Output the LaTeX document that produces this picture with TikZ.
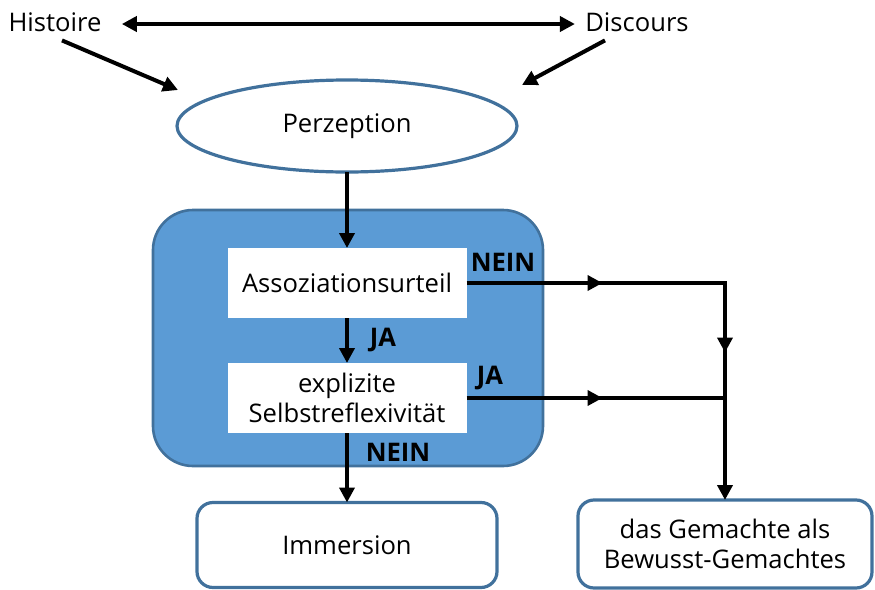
\documentclass[tikz,border=0pt]{standalone}
\usepackage{fontspec}
\setmainfont{Open Sans}
\usetikzlibrary{shapes.geometric, arrows.meta, positioning, decorations.markings}
\definecolor{rahmenblau}{RGB}{65,113,156}
\definecolor{flaecheblau}{RGB}{91,155,213}
\tikzstyle{arrow} = [line width=2pt, -{Triangle[length=7.5pt,width=7.5pt]}]
\tikzstyle{line} = [line width=2pt, line join=miter]

\begin{document}
\begin{tikzpicture}[x=0.5pt, y=-0.5pt, font=\fontsize{12.8}{15.2}\selectfont]

\tikzstyle{wort} = [inner sep=2pt, text height=9.5pt, text depth=2.5pt]
\tikzstyle{perzeption} = [ellipse, draw=rahmenblau, line width=1.6pt, fill=white, minimum width=170pt, minimum height=46pt, inner sep=0pt, outer sep=0pt]
\tikzstyle{feld} = [rectangle, rounded corners=20pt, draw=rahmenblau, line width=1.3pt, fill=flaecheblau, minimum width=195pt, minimum height=128pt, outer sep=0pt]
\tikzstyle{frage} = [rectangle, fill=white, minimum width=119.5pt, minimum height=35pt, align=center, inner sep=2pt, outer sep=0pt]
\tikzstyle{ergebnis} = [rectangle, rounded corners=8pt, draw=rahmenblau, line width=1.6pt, fill=white, minimum width=150pt, minimum height=42.5pt, align=center, outer sep=0pt]
\tikzstyle{antwort} = [font=\fontsize{12.8}{15.2}\selectfont\bfseries, inner sep=1pt]

\useasboundingbox (0,0) rectangle (875,590);

% Nodes
\node (histoire) [wort] at (55,24) {Histoire};
\node (discours) [wort] at (637,24) {Discours};
\node (perz) [perzeption] at (347,126) {Perzeption};
\node (block) [feld] at (348,338) {};
\node (assoz) [frage] at (347,283) {Assoziationsurteil};
\node (selbst) [frage, below=22.5pt of assoz] {explizite\\Selbstreflexivität};
\node (immersion) [ergebnis] at (347,545) {Immersion};
\node (gemacht) [ergebnis, minimum width=147pt, minimum height=44pt] at (725,544) {das Gemachte als\\Bewusst-Gemachtes};

% Labels
\node (nein1) [antwort] at (503,262) {NEIN};
\node (ja1) [antwort] at (383,340) {JA};
\node (ja2) [antwort] at (490,378) {JA};
\node (nein2) [antwort] at (398,452) {NEIN};

\coordinate (knick1) at (gemacht.north |- assoz.east);
\coordinate (knick2) at (gemacht.north |- selbst.east);
\coordinate (histoireziel) at (178,90);
\coordinate (discoursziel) at (522,85);

% Arrows
\draw [arrow, {Triangle[length=7.5pt,width=7.5pt]}-{Triangle[length=7.5pt,width=7.5pt]}, shorten <=8pt, shorten >=3pt] (histoire) -- (discours);
\draw [arrow] ([xshift=3.5pt]histoire.south) -- (histoireziel);
\draw [arrow] ([xshift=-16pt]discours.south) -- (discoursziel);
\draw [arrow] (perz) -- (assoz);
\draw [arrow] (assoz) -- (selbst);
\draw [arrow] (selbst) -- (immersion);
\draw [line, postaction={decorate}, decoration={markings,
  mark=at position 68pt with {\arrow{Triangle[length=7.5pt,width=7.5pt]}},
  mark=at position 164pt with {\arrow{Triangle[length=7.5pt,width=7.5pt]}}}]
  (assoz.east) -- (knick1) -- (knick2);
\draw [line, postaction={decorate}, decoration={markings,
  mark=at position 68pt with {\arrow{Triangle[length=7.5pt,width=7.5pt]}}}]
  (selbst.east) -- (knick2);
\draw [arrow] (knick2) -- (gemacht);

\end{tikzpicture}
\end{document}
